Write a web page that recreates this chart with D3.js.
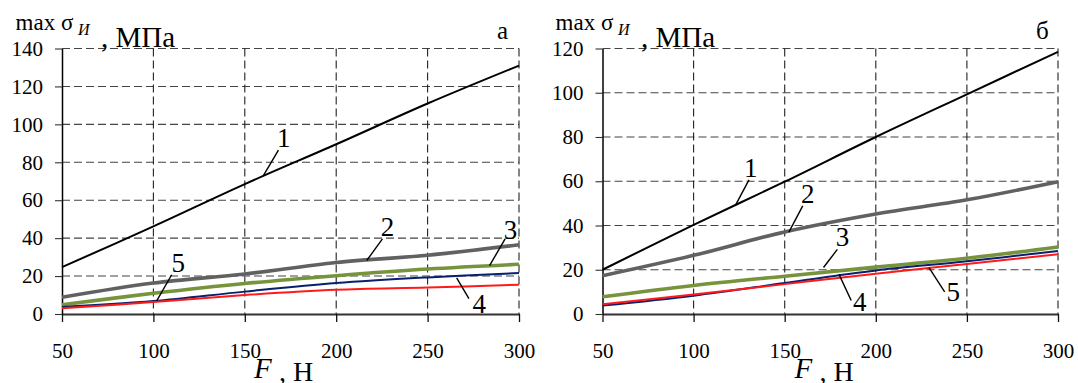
<!DOCTYPE html>
<html><head><meta charset="utf-8">
<script src="https://cdn.jsdelivr.net/npm/d3@7"></script>
<style>
body{margin:0;background:#fff}svg{display:block}
svg text{font-family:"Liberation Serif","Tinos","Times New Roman","DejaVu Serif",serif;}
</style>
</head><body>
<svg id="c" width="1078" height="383"></svg>
<script>
// ---- data ----
const forces = [50, 100, 150, 200, 250, 300];
const xTicks = [50, 100, 150, 200, 250, 300];
const yTicksA = [0, 20, 40, 60, 80, 100, 120, 140];
const yTicksB = [0, 20, 40, 60, 80, 100, 120];
const seriesNames = ["1", "2", "3", "4", "5"];
const panelLetters = ["а", "б"];

// panel а
const a1 = [24.7, 46.2, 68.5, 89.5, 111, 131];
const a2 = [8.8, 16.3, 21.1, 27.2, 31, 36.5];
const a3 = [4.9, 10.9, 16.1, 20.2, 23.7, 26.2];
const a4 = [3.7, 6.8, 11.8, 16.3, 19.3, 21.6];
const a5 = [3.0, 6.3, 10.0, 12.8, 14.0, 15.4];
// panel б
const b1 = [20, 40.3, 59.8, 80, 99.3, 118.5];
const b2 = [17.3, 26.5, 37.1, 45.2, 51.6, 59.8];
const b3 = [7.8, 12.9, 17.1, 21.2, 25.2, 30.3];
const b4 = [3.8, 8.3, 14.0, 19.7, 23.8, 28.5];
const b5 = [4.4, 8.8, 13.5, 18.2, 22.6, 27.0];

// annotation anchors in data coordinates: [label x, label y, leader start x, y, leader end x, y]
const notesA = [[171.3, 92.8, 168.4, 86.4, 160, 72.7],
                [228.1, 46, 225.3, 39.6, 216.7, 28.2],
                [295.3, 44.2, 292.4, 39.6, 283.9, 25.5],
                [278.2, 5.3, 272.6, 8.1, 265.9, 19.1],
                [113.6, 26.9, 110, 20.7, 101.8, 6.9]];
const notesB = [[131.4, 66.2, 130.4, 60.6, 122.8, 48.9],
                [162.7, 54.4, 159.9, 48.9, 152.3, 37],
                [181.7, 34.7, 178.9, 29.2, 171.3, 21],
                [191.2, 5.3, 186.5, 6.1, 179.8, 17.9],
                [242.5, 10, 237.8, 10, 229.2, 21]];

// ---- styling ----
const styles = [
  {color: "#000000", width: 2},
  {color: "#616161", width: 3.6},
  {color: "#77933C", width: 3.6},
  {color: "#0A1F6E", width: 2},
  {color: "#FF1A1A", width: 2}
];
const svg = d3.select("#c");

const panels = [
  {series: [a1, a2, a3, a4, a5], yTicks: yTicksA, yMax: 140, x0: 62, x1: 519, notes: notesA, letter: panelLetters[0], ox: 0},
  {series: [b1, b2, b3, b4, b5], yTicks: yTicksB, yMax: 120, x0: 602.5, x1: 1058, notes: notesB, letter: panelLetters[1], ox: 540}
];
const yTop = 48.5, yBot = 314;

panels.forEach(p => {
  const x = d3.scaleLinear().domain([50, 300]).range([p.x0, p.x1]);
  const y = d3.scaleLinear().domain([0, p.yMax]).range([yBot, yTop]);
  const g = svg.append("g");

  // gridlines
  g.selectAll(".hg").data(p.yTicks.filter(v => v > 0)).enter().append("line")
    .attr("x1", p.x0).attr("x2", p.x1).attr("y1", d => y(d)).attr("y2", d => y(d))
    .attr("stroke", "#444").attr("stroke-width", 1.1).attr("stroke-dasharray", "8,4");
  g.selectAll(".vg").data(xTicks.filter(v => v > 50)).enter().append("line")
    .attr("x1", d => x(d)).attr("x2", d => x(d)).attr("y1", yTop).attr("y2", yBot)
    .attr("stroke", "#222").attr("stroke-width", 1.1).attr("stroke-dasharray", "8,4");

  // axes
  const ax = g.append("g").attr("transform", `translate(0,${yBot})`)
    .call(d3.axisBottom(x).tickValues(xTicks).tickSize(8).tickPadding(14).tickSizeOuter(0));
  ax.select(".domain").attr("stroke", "#333").attr("stroke-width", 2);
  ax.selectAll(".tick line").attr("stroke", "#111").attr("stroke-width", 1.3);
  ax.selectAll("text").attr("font-size", 21).attr("fill", "#000")
    .attr("dy", "0.71em").attr("y", 29.5);

  const ay = g.append("g").attr("transform", `translate(${p.x0},0)`)
    .call(d3.axisLeft(y).tickValues(p.yTicks).tickSize(7).tickPadding(12).tickSizeOuter(0));
  ay.select(".domain").attr("stroke", "#000").attr("stroke-width", 1.5);
  ay.selectAll(".tick line").attr("stroke", "#333").attr("stroke-width", 1.1);
  ay.selectAll("text").attr("font-size", 21).attr("fill", "#000").attr("x", -19);

  // curves
  const line = d3.line().x((d, i) => x(forces[i])).y(d => y(d)).curve(d3.curveCatmullRom.alpha(0.5));
  p.series.forEach((s, i) => {
    g.append("path").datum(s).attr("d", line).attr("fill", "none")
      .attr("stroke", styles[i].color).attr("stroke-width", styles[i].width)
      .attr("stroke-linejoin", "round").attr("stroke-linecap", "butt");
  });

  // annotations
  p.notes.forEach((n, i) => {
    g.append("line").attr("x1", x(n[2])).attr("y1", y(n[3])).attr("x2", x(n[4])).attr("y2", y(n[5]))
      .attr("stroke", "#000").attr("stroke-width", 1.4);
    g.append("text").attr("x", x(n[0])).attr("y", y(n[1])).attr("text-anchor", "middle")
      .attr("dominant-baseline", "central").attr("font-size", 27)
      .text(seriesNames[i]);
  });

  // y title
  const t = g.append("text").attr("fill", "#000");
  t.append("tspan").attr("x", p.ox + 15.6).attr("y", 30).attr("font-size", 23).text("max σ");
  t.append("tspan").attr("x", p.ox + 78).attr("y", 35).attr("font-size", 16).attr("font-style", "italic").text("И");
  t.append("tspan").attr("x", p.ox + 101).attr("y", 46.5).attr("font-size", 29).text(", МПа");

  // x title
  const xt = g.append("text").attr("fill", "#000");
  xt.append("tspan").attr("x", p.x0 + 192).attr("y", 378).attr("font-size", 29).attr("font-style", "italic").text("F");
  xt.append("tspan").attr("x", p.x0 + 217).attr("y", 381).attr("font-size", 28).text(", Н");

  // panel letter
  g.append("text").attr("x", p.x1 - 22).attr("y", 38.5).attr("font-size", 25).text(p.letter);
});
</script>
</body></html>
